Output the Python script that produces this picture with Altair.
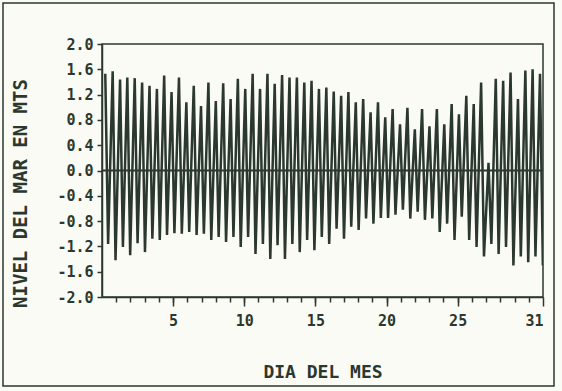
import altair as alt
import pandas as pd

# ---- data (days of the month, sea level in metres) ----
high_day = [0.23, 0.75, 1.27, 1.78, 2.30, 2.82, 3.34, 3.86, 4.37, 4.89,
            5.41, 5.93, 6.45, 6.96, 7.48, 8.00, 8.52, 9.04, 9.55, 10.07,
            10.59, 11.11, 11.63, 12.14, 12.66, 13.18, 13.70, 14.22, 14.73, 15.25,
            15.77, 16.29, 16.81, 17.32, 17.84, 18.36, 18.88, 19.40, 19.91, 20.43,
            20.95, 21.47, 21.99, 22.50, 23.02, 23.54, 24.06, 24.58, 25.09, 25.61,
            26.13, 26.65, 27.17, 27.68, 28.20, 28.72, 29.24, 29.76, 30.27, 30.79]
high_val = [1.53, 1.57, 1.44, 1.47, 1.46, 1.39, 1.34, 1.29, 1.50, 1.24,
            1.47, 1.08, 1.34, 1.02, 1.39, 1.10, 1.38, 1.13, 1.45, 1.29,
            1.53, 1.29, 1.53, 1.37, 1.51, 1.47, 1.47, 1.39, 1.42, 1.29,
            1.31, 1.25, 1.18, 1.24, 1.08, 1.13, 0.92, 1.08, 0.84, 0.97,
            0.73, 0.99, 0.65, 0.97, 0.70, 0.97, 0.73, 1.05, 0.89, 1.18,
            1.05, 1.39, 0.12, 1.45, 1.42, 1.55, 1.13, 1.58, 1.60, 1.53]
low_day = [0.43, 0.95, 1.47, 1.98, 2.50, 3.02, 3.54, 4.06, 4.57, 5.09,
           5.61, 6.13, 6.65, 7.16, 7.68, 8.20, 8.72, 9.24, 9.75, 10.27,
           10.79, 11.31, 11.83, 12.34, 12.86, 13.38, 13.90, 14.42, 14.93, 15.45,
           15.97, 16.49, 17.01, 17.52, 18.04, 18.56, 19.08, 19.60, 20.11, 20.63,
           21.15, 21.67, 22.19, 22.70, 23.22, 23.74, 24.26, 24.78, 25.29, 25.81,
           26.33, 26.85, 27.37, 27.88, 28.40, 28.92, 29.44, 29.96, 30.47, 30.99]
low_val = [-1.16, -1.42, -1.21, -1.34, -1.15, -1.29, -1.08, -1.10, -1.02, -0.99,
           -1.00, -0.97, -1.02, -1.00, -1.10, -1.05, -1.13, -1.05, -1.21, -1.05,
           -1.32, -1.16, -1.40, -1.18, -1.40, -1.16, -1.29, -1.10, -1.26, -1.05,
           -1.16, -0.92, -1.08, -0.89, -0.94, -0.76, -0.84, -0.75, -0.75, -0.70,
           -0.62, -0.76, -0.65, -0.78, -0.76, -0.97, -0.84, -1.10, -0.73, -1.10,
           -1.21, -1.36, -1.16, -1.32, -1.21, -1.50, -1.36, -1.45, -1.36, -1.50]

y_ticks = [-2.0, -1.6, -1.2, -0.8, -0.4, 0.0, 0.4, 0.8, 1.2, 1.6, 2.0]
x_major = [5, 10, 15, 20, 25, 31]
x_minor = [1, 2, 3, 4, 5, 6, 7, 8, 9, 10, 11, 12, 13, 14, 15, 16, 17, 18, 19, 20,
           21, 22, 23, 24, 25, 26, 27, 28, 29, 30]
zero_level = [0.0]

df = pd.concat([
    pd.DataFrame({"dia": high_day, "nivel": high_val}),
    pd.DataFrame({"dia": low_day, "nivel": low_val}),
]).sort_values("dia").reset_index(drop=True)

INK = "#2b382f"
FONT = "DejaVu Sans Mono"
W, H = 441, 253

x_scale = alt.Scale(domain=[0, 31], nice=False, zero=False)
y_scale = alt.Scale(domain=[-2, 2], nice=False)

y_axis = alt.Axis(values=y_ticks, title="NIVEL DEL MAR EN MTS",
                  labelExpr="replace(format(datum.value, '.1f'), '\u2212', '-')",
                  labelOverlap=False, labelBound=False, labelFlush=False,
                  tickSize=5, labelPadding=4, titleX=-82, titleY=149,
                  titleAngle=270, titleAlign="center", titleBaseline="middle",
                  labelFontSize=15, titleFontSize=19, grid=False)

line = alt.Chart(df).mark_line(color=INK, strokeWidth=2.5, clip=True).encode(
    x=alt.X("dia:Q", scale=x_scale,
            axis=alt.Axis(values=x_major, title="DIA DEL MES", tickSize=9,
                          orient="bottom", labelOverlap=False,
                          labelPadding=7, titleY=80, titleBaseline="alphabetic",
                          labelFontSize=15, titleFontSize=18, grid=False)),
    y=alt.Y("nivel:Q", scale=y_scale, axis=y_axis),
)

minor = alt.Chart(pd.DataFrame({"dia": x_minor})).mark_point(opacity=0).encode(
    x=alt.X("dia:Q", scale=x_scale,
            axis=alt.Axis(values=x_minor, labels=False, title=None, tickSize=5,
                          orient="bottom", domain=False, grid=False)),
)

zero = alt.Chart(pd.DataFrame({"nivel": zero_level})).mark_rule(
    color=INK, strokeWidth=2.2).encode(y=alt.Y("nivel:Q", scale=y_scale, axis=y_axis))

frame = alt.Chart(pd.DataFrame({"k": [0]})).mark_rect(
    filled=False, stroke=INK, strokeWidth=1.5).encode(
    x=alt.value(-99), x2=alt.value(452), y=alt.value(-41), y2=alt.value(342))

chart = alt.layer(frame, minor, line, zero).resolve_axis(x="independent").properties(
    width=W, height=H,
    autosize=alt.AutoSizeParams(type="none"),
    padding={"left": 102, "top": 44, "right": 19, "bottom": 94},
    background="#fbfbf5",
).configure_view(stroke=INK, strokeWidth=1.5).configure_axis(
    labelFont=FONT, titleFont=FONT, labelFontWeight="bold", titleFontWeight="bold",
    labelColor=INK, titleColor=INK, tickColor=INK, domainColor=INK,
    tickWidth=1.5, domainWidth=1.5, labelOverlap=False,
)

chart.save("out.html", embed_options={"renderer": "svg", "actions": False})
